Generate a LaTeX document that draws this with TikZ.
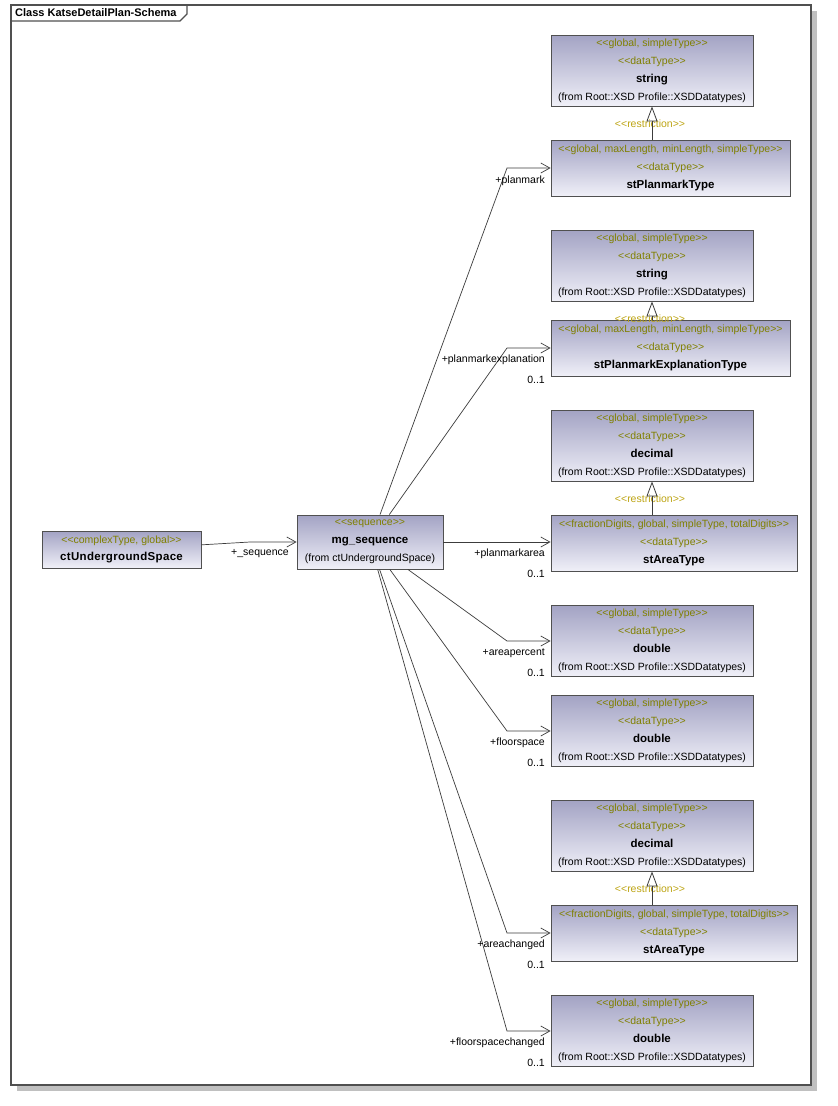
\documentclass[tikz,border=0pt]{standalone}
\usepackage{fontspec}
\setmainfont{Liberation Sans}[Ligatures=TeXOff]
\usetikzlibrary{arrows.meta}
\definecolor{boxtop}{RGB}{163,163,196}
\definecolor{boxbot}{RGB}{240,240,248}
\definecolor{boxline}{RGB}{80,80,80}
\definecolor{stereo}{RGB}{128,128,0}
\definecolor{restrc}{RGB}{190,165,20}
\definecolor{frameline}{RGB}{80,80,80}
\definecolor{shadowc}{RGB}{192,192,192}
\definecolor{wire}{RGB}{60,60,60}
\newcommand{\stx}[1]{\textcolor{stereo}{<\kern0pt<#1>\kern0pt>}}
\newcommand{\nm}[1]{{\fontsize{11.5}{18}\selectfont\bfseries #1}}
\newcommand{\fromxsd}{(from Root::XSD Profile::XSDDatatypes)}
\begin{document}
\begin{tikzpicture}[x=1pt,y=-1pt,
  umlbox/.style={draw=boxline, line width=0.9pt, top color=boxtop, bottom color=boxbot,
    align=center, inner sep=0pt, font=\fontsize{10.5}{18}\selectfont},
  fromw/.style={minimum width=202pt, minimum height=71pt},
  pmw/.style={minimum width=239pt, minimum height=56pt},
  areaw/.style={minimum width=246pt, minimum height=56pt},
  assoc/.style={draw=wire, line width=0.7pt, -{Straight Barb[length=9pt,width=10pt]}},
  restr/.style={draw=wire, line width=0.8pt, -{Triangle[open,length=15pt,width=11pt]}},
  lbl/.style={inner sep=0pt, anchor=east, font=\fontsize{10.5}{12}\selectfont},
  restrlbl/.style={inner sep=0pt, text=restrc, font=\fontsize{10.5}{12}\selectfont}
]
\useasboundingbox (0,0) rectangle (838,1106);
% frame
\fill[shadowc] (17,11) rectangle (817,1091);
\draw[draw=frameline, fill=white, line width=1.3pt] (11,5) rectangle (811,1085);
\draw[draw=frameline, line width=1.1pt] (11,21) -- (180,21) -- (187,14) -- (187,5);
\node[anchor=west, inner sep=0pt, font=\bfseries\fontsize{11}{13}\selectfont] (title) at (15,13) {Class KatseDetailPlan-Schema};

% left boxes
\node[umlbox, minimum width=159pt, minimum height=37pt, font=\fontsize{10.5}{17}\selectfont] (ctU) at (121.5,549.5)
  {\stx{complexType, global}\\{\fontsize{11.5}{17}\selectfont\bfseries\addfontfeature{LetterSpace=3}ctUndergroundSpace}};
\node[umlbox, minimum width=146pt, minimum height=54pt] (mg) at (370,542)
  {\stx{sequence}\\\nm{mg\_sequence}\\(from ctUndergroundSpace)};

% right column
\node[umlbox, fromw] (A1) at (652,70.5) {\stx{global, simpleType}\\\stx{dataType}\\\nm{string}\\\fromxsd};
\node[umlbox, pmw] (A2) at (670.5,168) {\stx{global, maxLength, minLength, simpleType}\\\stx{dataType}\\\nm{stPlanmarkType}};
\node[umlbox, fromw] (B1) at (652,265.5) {\stx{global, simpleType}\\\stx{dataType}\\\nm{string}\\\fromxsd};
\node[umlbox, pmw] (B2) at (670.5,348) {\stx{global, maxLength, minLength, simpleType}\\\stx{dataType}\\\nm{stPlanmarkExplanationType}};
\node[umlbox, fromw] (C1) at (652,445.5) {\stx{global, simpleType}\\\stx{dataType}\\\nm{decimal}\\\fromxsd};
\node[umlbox, areaw] (C2) at (674,543) {\stx{fractionDigits, global, simpleType, totalDigits}\\\stx{dataType}\\\nm{stAreaType}};
\node[umlbox, fromw] (D) at (652,641) {\stx{global, simpleType}\\\stx{dataType}\\\nm{double}\\\fromxsd};
\node[umlbox, fromw] (E) at (652,731) {\stx{global, simpleType}\\\stx{dataType}\\\nm{double}\\\fromxsd};
\node[umlbox, fromw] (F1) at (652,835.5) {\stx{global, simpleType}\\\stx{dataType}\\\nm{decimal}\\\fromxsd};
\node[umlbox, areaw] (F2) at (674,933) {\stx{fractionDigits, global, simpleType, totalDigits}\\\stx{dataType}\\\nm{stAreaType}};
\node[umlbox, fromw] (G) at (652,1031) {\stx{global, simpleType}\\\stx{dataType}\\\nm{double}\\\fromxsd};

% restrictions
\node[restrlbl] (rA) at (650,124) {<\kern0pt<restriction>\kern0pt>};
\draw[restr] (A2.north -| A1.south) -- (A1.south);
\node[restrlbl] (rB) at (650,319) {<\kern0pt<restriction>\kern0pt>};
\draw[restr] (B2.north -| B1.south) -- (B1.south);
\node[restrlbl] (rC) at (650,499) {<\kern0pt<restriction>\kern0pt>};
\draw[restr] (C2.north -| C1.south) -- (C1.south);
\node[restrlbl] (rF) at (650,889) {<\kern0pt<restriction>\kern0pt>};
\draw[restr] (F2.north -| F1.south) -- (F1.south);

% associations
\coordinate (kS) at (250,542);
\coordinate (kA) at (507,168);
\coordinate (kB) at (507,348);
\coordinate (kD) at (507,641);
\coordinate (kE) at (507,731);
\coordinate (kF) at (507,933);
\coordinate (kG) at (507,1031);
\draw[assoc] (ctU) -- (kS) -- (mg.west);
\draw[assoc] (mg) -- (kA) -- (A2.west);
\draw[assoc] (mg) -- (kB) -- (B2.west);
\draw[assoc] (mg.east) -- (mg.east -| C2.west);
\draw[assoc] (mg) -- (kD) -- (D.west);
\draw[assoc] (mg) -- (kE) -- (E.west);
\draw[assoc] (mg) -- (kF) -- (F2.west);
\draw[assoc] (mg) -- (kG) -- (G.west);

% labels
\node[lbl, anchor=center] (lS) at (260,554) {+\_sequence};
\node[lbl] (lA) at (545,181) {+planmark};
\node[lbl] (lB) at (545,360) {+planmarkexplanation};
\node[lbl] (mB) at (545,380) {0..1};
\node[lbl] (lC) at (545,554) {+planmarkarea};
\node[lbl] (mC) at (545,574) {0..1};
\node[lbl] (lD) at (545,653) {+areapercent};
\node[lbl] (mD) at (545,673) {0..1};
\node[lbl] (lE) at (545,743) {+floorspace};
\node[lbl] (mE) at (545,763) {0..1};
\node[lbl] (lF) at (545,945) {+areachanged};
\node[lbl] (mF) at (545,965) {0..1};
\node[lbl] (lG) at (545,1043) {+floorspacechanged};
\node[lbl] (mG) at (545,1063) {0..1};
\end{tikzpicture}
\end{document}
